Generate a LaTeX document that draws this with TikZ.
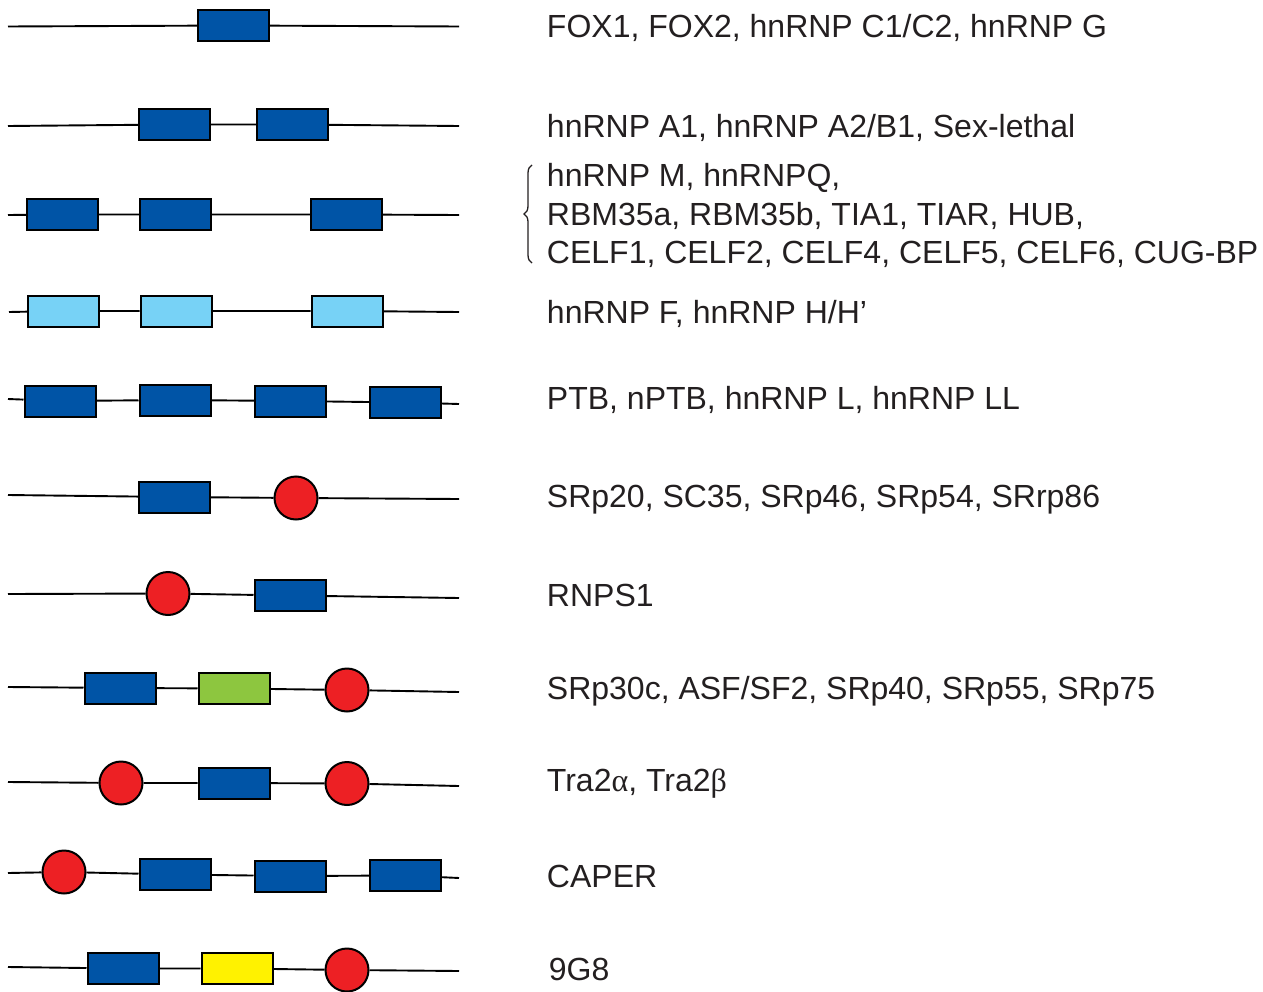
\documentclass[tikz,border=0pt]{standalone}
\usepackage{fontspec}
\setmainfont{Liberation Sans}
\newfontfamily\grk{Liberation Serif}
\usetikzlibrary{decorations.pathreplacing}
\definecolor{domblue}{RGB}{0,84,166}
\definecolor{domlight}{RGB}{119,210,246}
\definecolor{domgreen}{RGB}{141,198,63}
\definecolor{domyellow}{RGB}{255,242,0}
\definecolor{rsred}{RGB}{237,32,36}
\definecolor{txt}{RGB}{35,31,32}
\begin{document}
\begin{tikzpicture}[x=1pt,y=-1pt,line width=1.9pt,
  every node/.style={inner sep=0pt},
  rrm/.style={draw,line width=2pt,minimum width=71pt,minimum height=31pt,fill=domblue},
  rs/.style={draw,circle,line width=2pt,minimum size=43pt,fill=rsred},
  lbl/.style={anchor=base west,text=txt,font=\fontsize{32}{38}\selectfont}]
  \useasboundingbox (0,0) rectangle (1263,992);
  % row 1
  \coordinate (s1) at (8,26.5); \coordinate (e1) at (459,26.5);
  \node[rrm] (a1) at (233.5,25.5) {};
  \draw (s1) -- (a1) -- (e1);
  \node[lbl] (t1) at (546,37.5) {FOX1, FOX2, hnRNP C1/C2, hnRNP G};
  % row 2
  \coordinate (s2) at (8,126); \coordinate (e2) at (459,126);
  \node[rrm] (a2) at (174.5,124.5) {};
  \node[rrm] (b2) at (292.5,124.5) {};
  \draw (s2) -- (a2) -- (b2) -- (e2);
  \node[lbl] (t2) at (546,138) {hnRNP A1, hnRNP A2/B1, Sex-lethal};
  % row 3
  \coordinate (s3) at (8,215); \coordinate (e3) at (459,215);
  \node[rrm] (a3) at (62.5,214.5) {};
  \node[rrm] (b3) at (175.5,214.5) {};
  \node[rrm] (c3) at (346.5,214.5) {};
  \draw (s3) -- (a3) -- (b3) -- (c3) -- (e3);
  \node[lbl] (t3a) at (546,187) {hnRNP M, hnRNPQ,};
  \node[lbl] (t3b) at (546,225.5) {RBM35a, RBM35b, TIA1, TIAR, HUB,};
  \node[lbl] (t3c) at (546,264) {CELF1, CELF2, CELF4, CELF5, CELF6, CUG-BP};
  \draw[line width=1.3pt,txt,decorate,decoration={brace,amplitude=8pt}] (532,263) -- (532,165);
  % row 4
  \coordinate (s4) at (9,312); \coordinate (e4) at (459,312);
  \node[rrm,fill=domlight] (a4) at (63.5,311) {};
  \node[rrm,fill=domlight] (b4) at (176,311) {};
  \node[rrm,fill=domlight] (c4) at (347,311) {};
  \draw (s4) -- (a4) -- (b4) -- (c4) -- (e4);
  \node[lbl] (t4) at (546,323) {hnRNP F, hnRNP H/H’};
  % row 5
  \coordinate (s5) at (8,399); \coordinate (e5) at (459,404);
  \node[rrm] (a5) at (60,401) {};
  \node[rrm] (b5) at (175,400) {};
  \node[rrm] (c5) at (290.5,401) {};
  \node[rrm] (d5) at (405.5,402.5) {};
  \draw (s5) -- (a5) -- (b5) -- (c5) -- (d5) -- (e5);
  \node[lbl] (t5) at (546,409) {PTB, nPTB, hnRNP L, hnRNP LL};
  % row 6
  \coordinate (s6) at (8,495); \coordinate (e6) at (459,499);
  \node[rrm] (a6) at (174.5,497) {};
  \node[rs] (b6) at (296,498) {};
  \draw (s6) -- (a6) -- (b6) -- (e6);
  \node[lbl] (t6) at (546,507) {SRp20, SC35, SRp46, SRp54, SRrp86};
  % row 7
  \coordinate (s7) at (8,594); \coordinate (e7) at (459,598);
  \node[rs] (a7) at (168,593.5) {};
  \node[rrm] (b7) at (290,595.5) {};
  \draw (s7) -- (a7) -- (b7) -- (e7);
  \node[lbl] (t7) at (546,606) {RNPS1};
  % row 8
  \coordinate (s8) at (8,687); \coordinate (e8) at (459,692);
  \node[rrm] (a8) at (120,688) {};
  \node[rrm,fill=domgreen] (b8) at (234,688.5) {};
  \node[rs] (c8) at (347,690) {};
  \draw (s8) -- (a8) -- (b8) -- (c8) -- (e8);
  \node[lbl] (t8) at (546,699) {SRp30c, ASF/SF2, SRp40, SRp55, SRp75};
  % row 9
  \coordinate (s9) at (8,782); \coordinate (e9) at (459,786);
  \node[rs] (a9) at (121,783) {};
  \node[rrm] (b9) at (234,783) {};
  \node[rs] (c9) at (347,783.5) {};
  \draw (s9) -- (a9) -- (b9) -- (c9) -- (e9);
  \node[lbl] (t9) at (546,791) {Tra2{\grk α}, Tra2{\grk β}};
  % row 10
  \coordinate (s10) at (8,873); \coordinate (e10) at (459,878);
  \node[rs] (a10) at (64,872) {};
  \node[rrm] (b10) at (175,874.5) {};
  \node[rrm] (c10) at (290,876) {};
  \node[rrm] (d10) at (405.5,875.5) {};
  \draw (s10) -- (a10) -- (b10) -- (c10) -- (d10) -- (e10);
  \node[lbl] (t10) at (546,887) {CAPER};
  % row 11
  \coordinate (s11) at (8,967); \coordinate (e11) at (459,971);
  \node[rrm] (a11) at (123,968.5) {};
  \node[rrm,fill=domyellow] (b11) at (237,968.5) {};
  \node[rs] (c11) at (347,970) {};
  \draw (s11) -- (a11) -- (b11) -- (c11) -- (e11);
  \node[lbl] (t11) at (548,980) {9G8};
\end{tikzpicture}
\end{document}
